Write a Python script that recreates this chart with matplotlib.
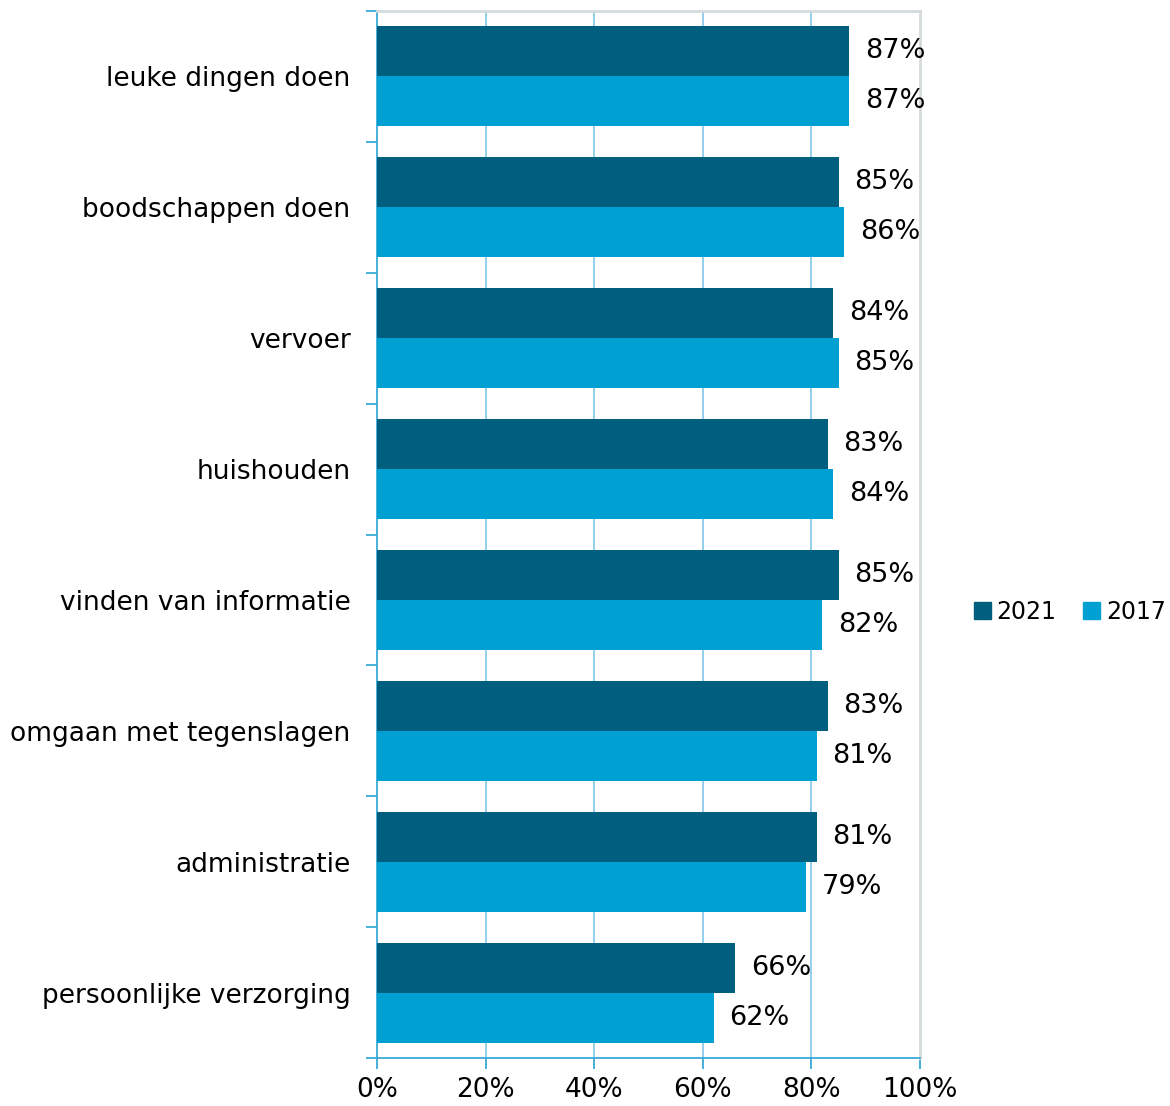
import numpy as np
import matplotlib.pyplot as plt
from matplotlib.patches import Patch

# Categorieën en waarden (in procenten)
categories = ["leuke dingen doen", "boodschappen doen", "vervoer", "huishouden",
              "vinden van informatie", "omgaan met tegenslagen", "administratie",
              "persoonlijke verzorging"]
values_2021 = [87, 85, 84, 83, 85, 83, 81, 66]
values_2017 = [87, 86, 85, 84, 82, 81, 79, 62]
x_ticks = [0, 20, 40, 60, 80, 100]

dark = "#005E7E"
light = "#00A1D2"
axis_blue = "#3AAAD8"
grid_blue = "#8ACDE8"
frame_grey = "#D5DADD"

plt.rcParams['font.family'] = ['DejaVu Sans']
fig = plt.figure(figsize=(11.7, 11.06), dpi=100)
ax = fig.add_axes([377 / 1170, 48 / 1106, 543 / 1170, 1047 / 1106])

n = len(categories)
pos = np.arange(n)
h = 0.382

ax.barh(pos - h / 2, values_2021, height=h, color=dark, zorder=3)
ax.barh(pos + h / 2, values_2017, height=h, color=light, zorder=3)

for p, v in zip(pos, values_2021):
    ax.text(v + 2.9, p - h / 2, f"{v}%", va="center", ha="left", fontsize=19.5)
for p, v in zip(pos, values_2017):
    ax.text(v + 2.9, p + h / 2, f"{v}%", va="center", ha="left", fontsize=19.5)

ax.set_xlim(0, 100)
ax.set_ylim(n - 0.5, -0.5)
ax.set_xticks(x_ticks)
ax.set_xticklabels([f"{t}%" for t in x_ticks], fontsize=19)

# categorie-labels tussen de tickmarks
ax.set_yticks(np.arange(n + 1) - 0.5)
ax.set_yticklabels([])
ax.set_yticks(pos, minor=True)
ax.set_yticklabels(categories, minor=True, fontsize=19)
ax.tick_params(axis="y", which="minor", length=0, pad=19)
ax.tick_params(axis="y", which="major", length=8, color=axis_blue, width=1.3)
ax.tick_params(axis="x", length=8, color=axis_blue, width=1.3, pad=6)

for t in x_ticks[1:-1]:
    ax.axvline(t, color=grid_blue, lw=1.3, zorder=1)

ax.spines["left"].set_color(axis_blue)
ax.spines["bottom"].set_color(axis_blue)
ax.spines["left"].set_linewidth(1.3)
ax.spines["bottom"].set_linewidth(1.3)
ax.spines["top"].set_color(frame_grey)
ax.spines["right"].set_color(frame_grey)
ax.spines["top"].set_linewidth(2)
ax.spines["right"].set_linewidth(2)

handles = [Patch(color=dark, label="2021"), Patch(color=light, label="2017")]
fig.legend(handles=handles, loc="center left", bbox_to_anchor=(974 / 1170, 1 - 612 / 1106),
           ncol=2, frameon=False, fontsize=17, handlelength=0.7, handleheight=0.7,
           handletextpad=0.25, columnspacing=1.15, borderpad=0, borderaxespad=0)

fig.savefig("out.png", dpi=100)
